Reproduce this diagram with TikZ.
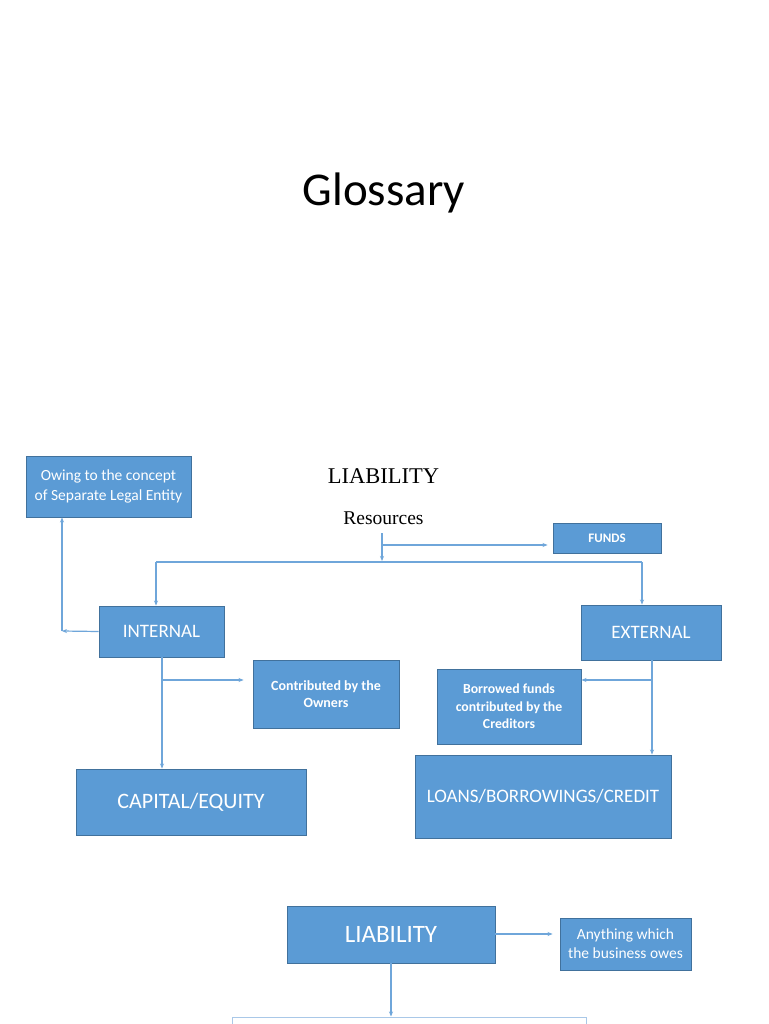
\documentclass[tikz,border=0pt]{standalone}
\usepackage{fontspec}
\setmainfont{Carlito}
\newfontfamily\serifface{Liberation Serif}
\usetikzlibrary{arrows.meta}
\definecolor{boxblue}{HTML}{5B9BD5}
\definecolor{boxedge}{HTML}{41719C}
\definecolor{linkblue}{HTML}{6FA6DA}
\definecolor{paleedge}{HTML}{A9C8E8}
\tikzset{
  bluebox/.style={draw=boxedge, line width=0.9pt, fill=boxblue, text=white, inner sep=0pt, align=center},
  link/.style={draw=linkblue, line width=1.2pt, -{Stealth[length=5pt,width=4pt]}},
  plainlink/.style={draw=linkblue, line width=1.2pt}
}
\begin{document}
\begin{tikzpicture}[x=1pt,y=-1pt]
\useasboundingbox (0,0) rectangle (768,1024);
\fill[white] (0,0) rectangle (768,1024);
% title
\node[inner sep=0pt, font={\fontsize{47}{52}\selectfont}] (title) at (384,193) {Glossary};
\node[inner sep=0pt, font={\serifface\fontsize{22.5}{26}\selectfont}] (liabhead) at (383.5,476) {LIABILITY};
\node[inner sep=0pt, font={\serifface\fontsize{19.5}{22}\selectfont}] (resources) at (383.5,518.5) {Resources};
% boxes
\node[bluebox, minimum width=165pt, minimum height=61pt, font={\fontsize{15.5}{20}\selectfont}] (owing) at (108.5,486.5)
  {Owing to the concept\\of Separate Legal Entity};
\node[bluebox, minimum width=108pt, minimum height=30pt, font={\bfseries\fontsize{13}{15}\selectfont}] (funds) at (607,538)
  {FUNDS};
\node[bluebox, minimum width=125pt, minimum height=51pt, font={\fontsize{19}{22}\selectfont}] (internal) at (161.5,631.5)
  {INTERNAL};
\node[bluebox, minimum width=140pt, minimum height=55pt, font={\fontsize{19}{22}\selectfont}] (external) at (651,632.5)
  {EXTERNAL};
\node[bluebox, minimum width=146pt, minimum height=68pt, font={\bfseries\fontsize{14}{17}\selectfont}] (contrib) at (326,694)
  {Contributed by the\\Owners};
\node[bluebox, minimum width=144pt, minimum height=75pt, font={\bfseries\fontsize{13.8}{17.5}\selectfont}] (borrowed) at (509,706.5)
  {Borrowed funds\\contributed by the\\Creditors};
\node[bluebox, minimum width=230pt, minimum height=66pt, font={\fontsize{22}{26}\selectfont}] (capital) at (191,802)
  {CAPITAL/EQUITY};
\node[bluebox, minimum width=256pt, minimum height=83pt, font={\fontsize{19}{24}\selectfont}] (loans) at (543,796.5)
  {LOANS/BORROWINGS/CREDIT};
\node[bluebox, minimum width=208pt, minimum height=57pt, font={\fontsize{25}{30}\selectfont}] (liab) at (391,934.5)
  {LIABILITY};
\node[bluebox, minimum width=131pt, minimum height=52pt, font={\fontsize{15.5}{19}\selectfont}] (anything) at (625.5,944)
  {Anything which\\the business owes};
\node[draw=paleedge, line width=1pt, fill=white, minimum width=354pt, minimum height=40pt, inner sep=0pt] (nextbox) at (409,1037) {};
% connectors
\coordinate (rtop) at (382,533);
\coordinate (rsplit) at (382,545);
\coordinate (rbus) at (382,561);
\coordinate (busL) at (156,562);
\coordinate (busR) at (642,562);
\draw[link] (rtop) -- (rbus);
\draw[link] (rsplit) -- ([xshift=-5pt]funds.west |- rsplit);
\draw[plainlink] (busL) -- (busR);
\draw[link] (busL) -- (busL |- internal.north);
\draw[link] (busR) -- (busR |- external.north);
\coordinate (ocorner) at (62,631);
\draw[link] (internal.west) -- (ocorner);
\draw[link] (ocorner) -- (ocorner |- owing.south);
\coordinate (itop) at (162,657);
\coordinate (isplit) at (162,680);
\draw[link] (itop) -- (itop |- capital.north);
\draw[link] (isplit) -- ([xshift=-9pt]contrib.west |- isplit);
\coordinate (etop) at (652,660);
\coordinate (esplit) at (652,680);
\draw[link] (etop) -- (etop |- loans.north);
\draw[link] (esplit) -- (borrowed.east |- esplit);
\coordinate (lright) at (495,934);
\draw[link] (lright) -- ([xshift=-7pt]anything.west |- lright);
\draw[link] (liab.south) -- (liab.south |- nextbox.north);
\end{tikzpicture}
\end{document}
